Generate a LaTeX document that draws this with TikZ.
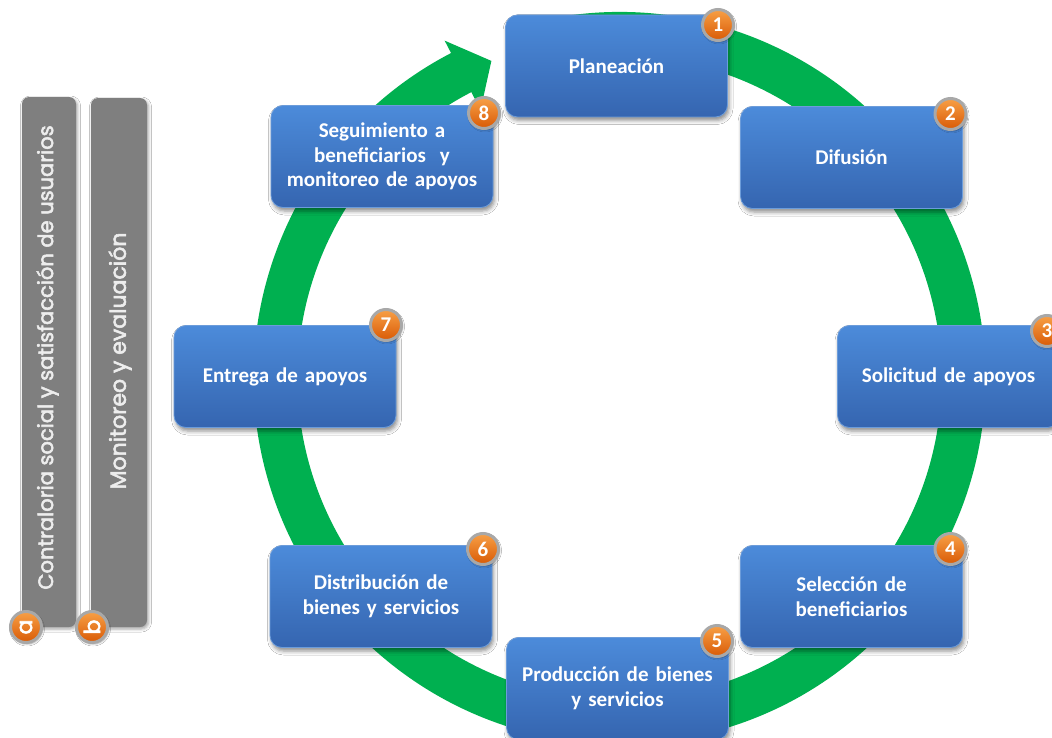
\documentclass[tikz,border=0pt]{standalone}
\usepackage{fontspec}
\setmainfont{Carlito}
\newfontfamily\barfont[FakeBold=2.5]{Poppins}
\usetikzlibrary{shadows.blur,calc}
\definecolor{ringgreen}{HTML}{00B050}
\definecolor{boxtop}{HTML}{4C8BDA}
\definecolor{boxbot}{HTML}{3565B0}
\definecolor{boxedge}{HTML}{6C9CDA}
\definecolor{bargray}{HTML}{7F7F7F}
\definecolor{bartext}{HTML}{EDEDED}
\definecolor{badgetop}{HTML}{F8A046}
\definecolor{badgebot}{HTML}{D85A06}
\definecolor{badgering}{HTML}{A8A8A8}
\begin{document}
\begin{tikzpicture}[x=1pt,y=-1pt,
  stepbox/.style={draw=boxedge, line width=0.8pt, rounded corners=12pt,
    top color=boxtop, bottom color=boxbot,
    minimum width=222pt, minimum height=102pt, text width=212pt, align=center,
    text=white, font=\fontsize{21}{24.5}\selectfont\bfseries, inner sep=0pt,
    blur shadow={shadow xshift=1.5pt, shadow yshift=-3.5pt, shadow blur radius=4pt, shadow opacity=45}},
  badge/.style={circle, draw=badgering, line width=3pt,
    top color=badgetop, bottom color=badgebot,
    minimum size=31pt, inner sep=0pt, text=white,
    font=\fontsize{21}{21}\selectfont\bfseries,
    blur shadow={shadow xshift=1pt, shadow yshift=-1.5pt, shadow blur radius=2pt, shadow opacity=40}},
  bigbadge/.style={badge, font=\fontsize{22}{22}\selectfont\barfont},
  sidebar/.style={fill=bargray, rounded corners=7pt, inner sep=0pt,
    blur shadow={shadow xshift=1.5pt, shadow yshift=-2pt, shadow blur radius=3pt, shadow opacity=35}},
  bartxt/.style={rotate=90, text=bartext, inner sep=0pt}
]
\useasboundingbox (0,0) rectangle (1052,738);
\fill[white] (0,0) rectangle (1052,738);
\clip (0,0) rectangle (1052,738);

% ring
\coordinate (C) at (619.5,378);
\draw[ringgreen, line width=44pt] ($(C)+(255:344)$) arc[start angle=255, end angle=603, radius=344];
\fill[ringgreen] ($(C)+(242.6:380)$) -- ($(C)+(248:342)$) -- ($(C)+(242.6:302)$) -- cycle;

% side bars
\node[sidebar, minimum width=54pt, minimum height=530pt] (bara) at (49,362) {};
\node[sidebar, minimum width=56pt, minimum height=529pt] (barb) at (119,362.5) {};
\node[bartxt, font=\barfont\fontsize{21}{21}\selectfont] (ta) at (47.5,357.5) {Contraloria social y satisfacción de usuarios};
\node[bartxt, font=\barfont\fontsize{22}{22}\selectfont] (tb) at (120,361) {Monitoreo y evaluación};
\node[bigbadge, rotate=90] (ba) at (26,627) {a};
\node[bigbadge, rotate=90] (bb) at (92,627) {b};

% steps
\node[stepbox] (s1) at (616.5,66) {Planeación};
\node[stepbox] (s2) at (851.5,157.5) {Difusión};
\node[stepbox] (s3) at (948.5,376.5) {Solicitud de apoyos};
\node[stepbox] (s4) at (851.5,596.5) {Selección de\\ beneficiarios};
\node[stepbox] (s5) at (617.5,688.5) {Producción de bienes\\ y servicios};
\node[stepbox] (s6) at (381,596.5) {Distribución de\\ bienes y servicios};
\node[stepbox] (s7) at (285,376.5) {Entrega de apoyos};
\node[stepbox] (s8) at (382,156.5) {Seguimiento a\\ beneficiarios\ \ y\\ monitoreo de apoyos};

% badges
\node[badge] (n1) at (718,25) {1};
\node[badge] (n2) at (950.5,114) {2};
\node[badge] (n3) at (1047,331) {3};
\node[badge] (n4) at (950.5,549) {4};
\node[badge] (n5) at (717,641) {5};
\node[badge] (n6) at (483,549) {6};
\node[badge] (n7) at (386,325) {7};
\node[badge] (n8) at (484,113) {8};
\end{tikzpicture}
\end{document}
